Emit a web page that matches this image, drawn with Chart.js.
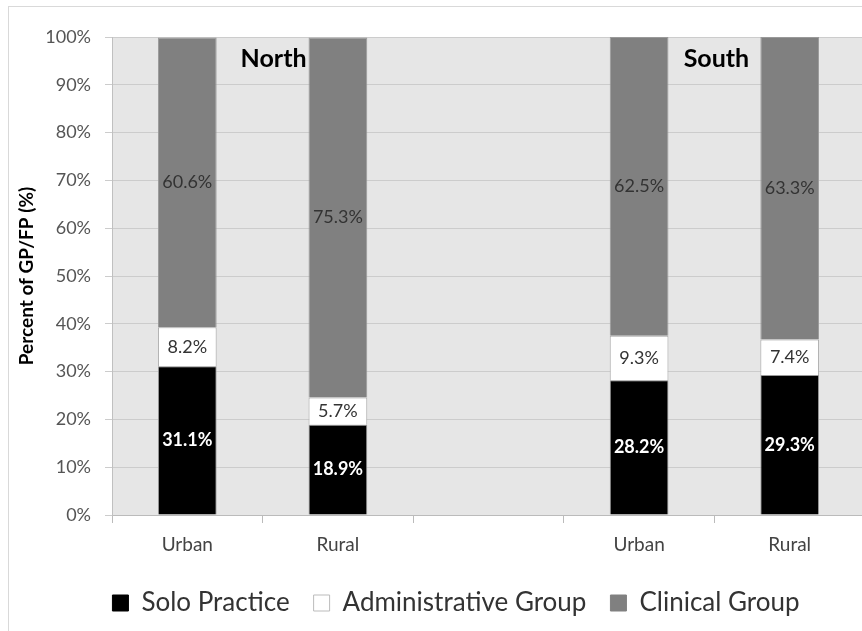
<!DOCTYPE html>
<html>
<head>
<meta charset="utf-8">
<script src="https://cdn.jsdelivr.net/npm/chart.js@4/dist/chart.umd.min.js"></script>
<style>
  html, body { margin: 0; padding: 0; background: #fff; overflow: hidden; }
  #wrap { position: absolute; left: 0; top: 0; width: 912px; height: 640px; }
</style>
</head>
<body>
<div id="wrap"><canvas id="c" width="912" height="640"></canvas></div>
<script>
const categories = ["Urban", "Rural", "", "Urban", "Rural"];
const soloPractice = [31.1, 18.9, null, 28.2, 29.3];
const administrativeGroup = [8.2, 5.7, null, 9.3, 7.4];
const clinicalGroup = [60.6, 75.3, null, 62.5, 63.3];
const regionLabels = ["North", "South"];
const seriesNames = ["Solo Practice", "Administrative Group", "Clinical Group"];

const FONT = "Lato, 'Open Sans', sans-serif";

const bgPlugin = {
  id: 'bg',
  beforeDraw(chart) {
    const { ctx, chartArea: a } = chart;
    ctx.save();
    ctx.fillStyle = '#fff';
    ctx.fillRect(0, 0, chart.width, chart.height);
    ctx.strokeStyle = '#d9d9d9';
    ctx.lineWidth = 1;
    ctx.strokeRect(8.5, 6.5, chart.width - 17, chart.height - 13);
    ctx.fillStyle = '#e6e6e6';
    ctx.fillRect(a.left, a.top, a.right - a.left, a.bottom - a.top);
    ctx.restore();
  }
};

const labelPlugin = {
  id: 'labels',
  afterDatasetsDraw(chart) {
    const { ctx } = chart;
    const styles = [
      { color: '#fff', weight: 'bold' },
      { color: '#333', weight: 'normal' },
      { color: '#333', weight: 'normal' }
    ];
    ctx.save();
    ctx.textAlign = 'center';
    ctx.textBaseline = 'middle';
    chart.data.datasets.forEach((ds, i) => {
      const meta = chart.getDatasetMeta(i);
      meta.data.forEach((el, j) => {
        const v = ds.data[j];
        if (v === null || v === undefined) return;
        ctx.fillStyle = styles[i].color;
        ctx.font = styles[i].weight + ' 18px ' + FONT;
        ctx.fillText(v.toFixed(1) + '%', el.x, (el.y + el.base) / 2);
      });
    });
    // region annotations
    const xs = chart.scales.x, ys = chart.scales.y;
    ctx.fillStyle = '#000';
    ctx.font = 'bold 25px ' + FONT;
    const yy = ys.getPixelForValue(95.5);
    ctx.fillText(regionLabels[0], (xs.getPixelForValue(0) + xs.getPixelForValue(1)) / 2 + 11, yy);
    ctx.fillText(regionLabels[1], (xs.getPixelForValue(3) + xs.getPixelForValue(4)) / 2 + 2, yy);
    ctx.restore();
  }
};

new Chart(document.getElementById('c'), {
  type: 'bar',
  data: {
    labels: categories,
    datasets: [
      { label: seriesNames[0], data: soloPractice, backgroundColor: '#000', borderColor: '#999', borderWidth: 1 },
      { label: seriesNames[1], data: administrativeGroup, backgroundColor: '#fff', borderColor: '#aaa', borderWidth: 1 },
      { label: seriesNames[2], data: clinicalGroup, backgroundColor: '#808080', borderColor: '#999', borderWidth: 1 }
    ]
  },
  options: {
    responsive: false,
    devicePixelRatio: 1,
    animation: false,
    layout: { padding: { left: 47, top: 37, right: 47, bottom: 14 } },
    datasets: { bar: { barPercentage: 0.39, categoryPercentage: 1 } },
    plugins: {
      tooltip: { enabled: false },
      legend: {
        position: 'bottom',
        labels: {
          boxWidth: 16, boxHeight: 16, padding: 24,
          color: '#333',
          font: { family: FONT, size: 26 },
          generateLabels(chart) {
            return chart.data.datasets.map((ds, i) => ({
              text: ds.label,
              fillStyle: ds.backgroundColor,
              strokeStyle: i === 1 ? '#bbb' : ds.backgroundColor,
              lineWidth: 1,
              datasetIndex: i,
              fontColor: '#333'
            }));
          }
        }
      }
    },
    scales: {
      x: {
        stacked: true,
        grid: { offset: true, drawOnChartArea: false, drawTicks: true, tickLength: 8, color: '#bbb' },
        border: { display: true, color: '#bbb' },
        ticks: { color: '#444', font: { family: FONT, size: 19 }, padding: 10 },
        afterFit(s) { s.height = 51; }
      },
      y: {
        stacked: true,
        min: 0, max: 100,
        ticks: {
          stepSize: 10, color: '#555', padding: 14,
          font: { family: FONT, size: 18 },
          callback: v => v + '%'
        },
        grid: { color: '#cccccc', tickLength: 7, drawTicks: true },
        border: { display: true, color: '#c0c0c0' },
        title: {
          display: true, text: 'Percent of GP/FP (%)', color: '#000',
          font: { family: FONT, size: 19, weight: 'bold' },
          padding: { top: -32, bottom: 0 }
        },
        afterFit(s) { s.width = 65; }
      }
    }
  },
  plugins: [bgPlugin, labelPlugin]
});
</script>
</body>
</html>
